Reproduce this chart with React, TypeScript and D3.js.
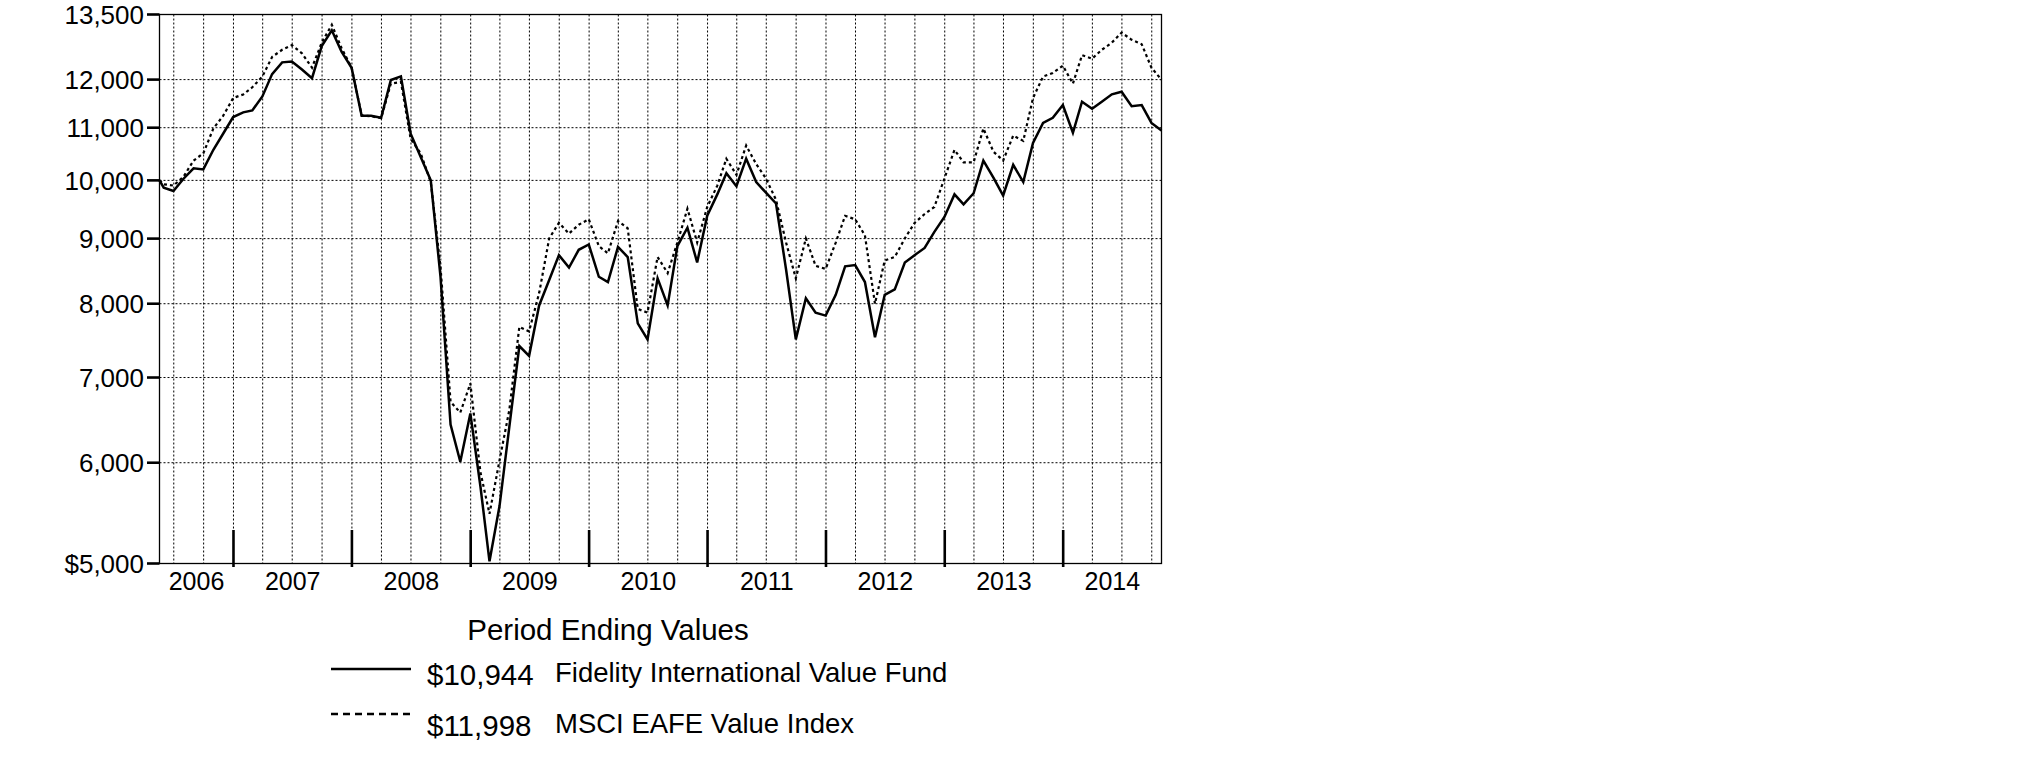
import React from 'react';
import * as d3 from 'd3';

const START = new Date(2006, 4, 18);
const END = new Date(2014, 9, 31);

// Month-end valuation dates (May 2006 .. Oct 2014), preceded by the inception date
const monthEnds: Date[] = d3
  .timeMonth.range(new Date(2006, 5, 1), new Date(2014, 10, 2))
  .map((d) => new Date(d.getTime() - 86400000));
const dates: Date[] = [START, ...monthEnds];

const fundValues: number[] = [
  10000,
  9870, 9810, 10030, 10220, 10200, 10570, 10880, 11215,
  11310, 11350, 11640, 12120, 12380, 12400, 12220, 12030, 12750, 13120, 12620, 12260,
  11240, 11240, 11200, 11990, 12070, 10880, 10430, 10000, 8400, 6430, 6010, 6560,
  5750, 5020, 5550, 6400, 7410, 7280, 7975, 8350, 8735, 8540, 8820, 8905,
  8400, 8320, 8865, 8705, 7720, 7500, 8375, 7975, 8880, 9180, 8620, 9380,
  9750, 10130, 9895, 10400, 9970, 9780, 9590, 8510, 7500, 8080, 7870, 7830,
  8130, 8560, 8580, 8320, 7530, 8130, 8210, 8620, 8735, 8850, 9110, 9360,
  9750, 9575, 9770, 10365, 10050, 9730, 10285, 9970, 10700, 11095, 11200, 11460,
  10900, 11530, 11385, 11530, 11685, 11740, 11435, 11460, 11095, 10944,
];

const indexValues: number[] = [
  10000,
  9930, 9906, 10068, 10365, 10500, 10985, 11237, 11606,
  11682, 11834, 12066, 12502, 12665, 12772, 12584, 12262, 12830, 13251, 12707, 12262,
  11250, 11230, 11190, 11913, 11950, 10780, 10500, 9970, 8550, 6700, 6570, 6925,
  5900, 5470, 6028, 6598, 7672, 7610, 8155, 9003, 9260, 9082, 9230, 9320,
  8878, 8764, 9290, 9170, 7924, 7873, 8706, 8456, 8936, 9500, 8936, 9530,
  9906, 10399, 10101, 10650, 10298, 10034, 9654, 8936, 8376, 9003, 8567, 8520,
  8936, 9379, 9320, 9053, 8000, 8650, 8706, 9003, 9260, 9409, 9530, 10034,
  10567, 10332, 10332, 10985, 10533, 10365, 10844, 10740, 11606, 12066, 12146, 12305,
  11913, 12542, 12462, 12665, 12830, 13065, 12896, 12793, 12262, 11998,
];

const yTicks: number[] = [5000, 6000, 7000, 8000, 9000, 10000, 11000, 12000, 13500];
const yGrid: number[] = [6000, 7000, 8000, 9000, 10000, 11000, 12000];
const years: number[] = [2006, 2007, 2008, 2009, 2010, 2011, 2012, 2013, 2014];

const legendTitle = 'Period Ending Values';
const seriesNames: string[] = ['Fidelity International Value Fund', 'MSCI EAFE Value Index'];
const seriesEndLabels: string[] = ['$10,944', '$11,998'];

const FONT = '"Liberation Sans", Arial, Helvetica, sans-serif';

export default function App() {
  const L = 159.5, R = 1161.5, T = 14.5, B = 563.5;
  const x = d3.scaleTime().domain([START, END]).range([L, R]);
  const y = d3.scaleLog().domain([5000, 13500]).range([B, T]);

  const line = d3
    .line<number>()
    .x((_, i) => x(dates[i]))
    .y((v) => y(v))
    .curve(d3.curveLinear);

  const quarters = d3.timeMonth.every(3)!.range(new Date(2006, 6, 1), END);
  const yearStarts = d3.timeYear.range(new Date(2007, 0, 1), END);

  const fmt = (v: number) => (v === 5000 ? '$' : '') + d3.format(',')(v);

  return (
    <svg
      width={2025}
      height={773}
      style={{ position: 'absolute', left: 0, top: 0, background: '#fff' }}
      fontFamily={FONT}
    >
      <rect x={0} y={0} width={2025} height={773} fill="#fff" />
      {/* grid */}
      {yGrid.map((v) => (
        <line key={'hg' + v} x1={L} x2={R} y1={y(v)} y2={y(v)} stroke="#000" strokeWidth={1} strokeDasharray="2,2" />
      ))}
      {quarters.map((d) => (
        <line key={'vg' + d.getTime()} x1={x(d)} x2={x(d)} y1={T} y2={B} stroke="#000" strokeWidth={1} strokeDasharray="2,2" />
      ))}
      {/* frame */}
      <rect x={L} y={T} width={R - L} height={B - T} fill="none" stroke="#000" strokeWidth={1.3} />
      {/* y ticks */}
      {yTicks.map((v) => (
        <g key={'yt' + v}>
          <line x1={147} x2={L} y1={y(v)} y2={y(v)} stroke="#000" strokeWidth={2.6} />
          <text x={144} y={y(v)} dy="0.36em" textAnchor="end" fontSize={26} fill="#000">
            {fmt(v)}
          </text>
        </g>
      ))}
      {/* year ticks */}
      {yearStarts.map((d) => (
        <line key={'yr' + d.getTime()} x1={x(d)} x2={x(d)} y1={530} y2={567} stroke="#000" strokeWidth={2.6} />
      ))}
      {years.map((yr) => {
        const a = new Date(Math.max(+new Date(yr, 0, 1), +START));
        const b = new Date(Math.min(+new Date(yr + 1, 0, 1), +END));
        return (
          <text key={'yl' + yr} x={(x(a) + x(b)) / 2} y={581} dy="0.36em" textAnchor="middle" fontSize={25} fill="#000">
            {yr}
          </text>
        );
      })}
      {/* series */}
      <path d={line(indexValues) || ''} fill="none" stroke="#000" strokeWidth={2.2} strokeDasharray="3,3" />
      <path d={line(fundValues) || ''} fill="none" stroke="#000" strokeWidth={2.5} strokeLinejoin="miter" />
      {/* legend */}
      <text x={608} y={629} dy="0.36em" textAnchor="middle" fontSize={29.5} fill="#000">
        {legendTitle}
      </text>
      <line x1={331} x2={411} y1={669} y2={669} stroke="#000" strokeWidth={2.5} />
      <text x={427} y={674} dy="0.36em" fontSize={29.5} fill="#000">{seriesEndLabels[0]}</text>
      <text x={555} y={672} dy="0.36em" fontSize={27.5} fill="#000">{seriesNames[0]}</text>
      <line x1={331} x2={411} y1={714} y2={714} stroke="#000" strokeWidth={2.5} strokeDasharray="7,5" />
      <text x={427} y={725} dy="0.36em" fontSize={29.5} fill="#000">{seriesEndLabels[1]}</text>
      <text x={555} y={723} dy="0.36em" fontSize={27.5} fill="#000">{seriesNames[1]}</text>
    </svg>
  );
}
